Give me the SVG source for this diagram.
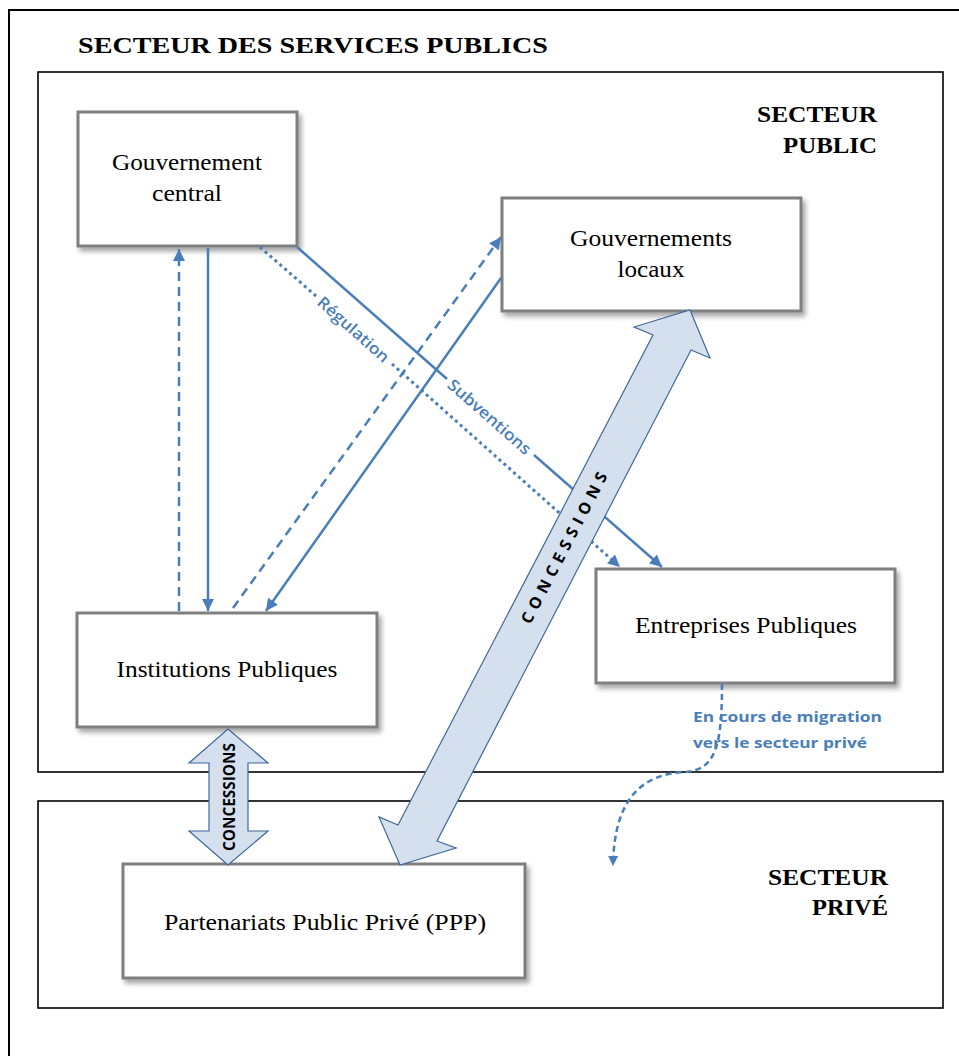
<svg xmlns="http://www.w3.org/2000/svg" width="959" height="1056" viewBox="0 0 959 1056">
<style>
.frame{fill:none;stroke:#000;stroke-width:2}
.sector{fill:none;stroke:#000;stroke-width:1.6}
.box{fill:#fff;stroke:#7f7f7f;stroke-width:3}
.nt{font-family:"Liberation Serif","Times New Roman",serif;font-size:23px;fill:#000}
.hd{font-family:"Liberation Serif","Times New Roman",serif;font-size:24px;font-weight:bold;fill:#000}
.ln{fill:none;stroke:#4a7ebb;stroke-width:2.5}
.dash{stroke-dasharray:9 6}
.dot{stroke-width:3;stroke-dasharray:3 3.5}
.lbl{font-family:"Open Sans","Noto Sans",sans-serif;font-size:16px;font-weight:600;fill:#4a7ebb}
.blbl{font-family:"Open Sans","Noto Sans",sans-serif;font-size:15px;font-weight:700;fill:#4a7ebb}
.big{fill:#d5e0ef;stroke:#41679a;stroke-width:1.2}
.ct{font-family:"Open Sans","Noto Sans",sans-serif;font-weight:700;fill:#000}
</style>
<defs>
<marker id="ah" viewBox="0 0 10 10" refX="10" refY="5" markerWidth="14" markerHeight="12" markerUnits="userSpaceOnUse" orient="auto">
<path d="M0,0 L10,5 L0,10 z" fill="#4a7ebb"/>
</marker>
<marker id="ahs" viewBox="0 0 10 10" refX="10" refY="5" markerWidth="11" markerHeight="10" markerUnits="userSpaceOnUse" orient="auto">
<path d="M0,0 L10,5 L0,10 z" fill="#4a7ebb"/>
</marker>
<filter id="sh" x="-10%" y="-10%" width="130%" height="140%">
<feDropShadow dx="3" dy="4" stdDeviation="2.5" flood-color="#000" flood-opacity="0.35"/>
</filter>
</defs>
<rect width="959" height="1056" fill="#fff"/>
<g id="outer">
<rect class="frame" x="9" y="10" width="980" height="1080"/>
<text class="hd" x="78" y="53" font-size="26" textLength="470" lengthAdjust="spacingAndGlyphs">SECTEUR DES SERVICES PUBLICS</text>
</g>
<g id="secteur-public">
<rect class="sector" x="38" y="72" width="905" height="700"/>
<text class="hd" x="877" y="122" text-anchor="end" textLength="120" lengthAdjust="spacingAndGlyphs">SECTEUR</text>
<text class="hd" x="877" y="153" text-anchor="end" textLength="94" lengthAdjust="spacingAndGlyphs">PUBLIC</text>
</g>
<g id="secteur-prive">
<rect class="sector" x="38" y="801" width="905" height="207"/>
<text class="hd" x="888" y="885" text-anchor="end" textLength="120" lengthAdjust="spacingAndGlyphs">SECTEUR</text>
<text class="hd" x="888" y="915" text-anchor="end" textLength="76" lengthAdjust="spacingAndGlyphs">PRIVÉ</text>
</g>
<g id="gouvernement-central">
<rect class="box" x="78" y="112" width="219" height="134" filter="url(#sh)"/>
<text class="nt" x="187" y="170" text-anchor="middle" textLength="150" lengthAdjust="spacingAndGlyphs">Gouvernement</text>
<text class="nt" x="187" y="201" text-anchor="middle" textLength="70" lengthAdjust="spacingAndGlyphs">central</text>
</g>
<g id="gouvernements-locaux">
<rect class="box" x="502" y="198" width="299" height="113" filter="url(#sh)"/>
<text class="nt" x="651" y="246" text-anchor="middle" textLength="162" lengthAdjust="spacingAndGlyphs">Gouvernements</text>
<text class="nt" x="651" y="277" text-anchor="middle" textLength="67" lengthAdjust="spacingAndGlyphs">locaux</text>
</g>
<g id="entreprises-publiques">
<rect class="box" x="596" y="569" width="299" height="114" filter="url(#sh)"/>
<text class="nt" x="746" y="633" text-anchor="middle" textLength="222" lengthAdjust="spacingAndGlyphs">Entreprises Publiques</text>
</g>
<g id="institutions-publiques">
<rect class="box" x="77" y="613" width="300" height="114" filter="url(#sh)"/>
<text class="nt" x="227" y="677" text-anchor="middle" textLength="221" lengthAdjust="spacingAndGlyphs">Institutions Publiques</text>
</g>
<g id="ppp">
<rect class="box" x="123" y="864" width="402" height="114" filter="url(#sh)"/>
<text class="nt" x="325" y="930" text-anchor="middle" textLength="322" lengthAdjust="spacingAndGlyphs">Partenariats Public Privé (PPP)</text>
</g>
<g id="connectors">
<path class="ln dash" d="M179,611 L179,249" marker-end="url(#ah)"/>
<path class="ln" d="M208,248 L208,611" marker-end="url(#ah)"/>
<path class="ln dash" d="M233,608 L501,237" marker-end="url(#ah)"/>
<path class="ln" d="M501,278 L266,611" marker-end="url(#ah)"/>
<path class="ln dot" d="M260,247 L316,296"/>
<path class="ln dot" d="M392,364 L620,567" marker-end="url(#ah)"/>
<text class="lbl" transform="translate(349.7,333.7) rotate(41.6)" text-anchor="middle" textLength="90" lengthAdjust="spacingAndGlyphs">Régulation</text>
<path class="ln" d="M297,247 L447,379"/>
<path class="ln" d="M534,455 L662,567" marker-end="url(#ah)"/>
<text class="lbl" transform="translate(485.7,421) rotate(41.2)" text-anchor="middle" textLength="105" lengthAdjust="spacingAndGlyphs">Subventions</text>
<path class="ln" d="M722,684 C722,745 716,770 685,772 C645,774 614,795 613,866" stroke-width="2" stroke-dasharray="6 4" marker-end="url(#ahs)"/>
<text class="blbl" x="693" y="722" textLength="189" lengthAdjust="spacingAndGlyphs">En cours de migration</text>
<text class="blbl" x="693" y="748" textLength="174" lengthAdjust="spacingAndGlyphs">vers le secteur privé</text>
</g>
<g id="concessions-grand">
<polygon class="big" points="690,310 710,358 691,350 437,841 456,848 400,865 379,817 398,825 653,335 634,327"/>
<text class="ct" font-size="16" transform="translate(569,550.5) rotate(-62.5)" text-anchor="middle" textLength="168" lengthAdjust="spacing">CONCESSIONS</text>
</g>
<g id="concessions-petit">
<polygon class="big" points="228,729 268,763 248,763 248,831 268,831 228,865 189,831 209,831 209,763 189,763"/>
<text class="ct" font-size="16" transform="translate(235,797) rotate(-90)" text-anchor="middle" textLength="108" lengthAdjust="spacingAndGlyphs">CONCESSIONS</text>
</g>
</svg>
